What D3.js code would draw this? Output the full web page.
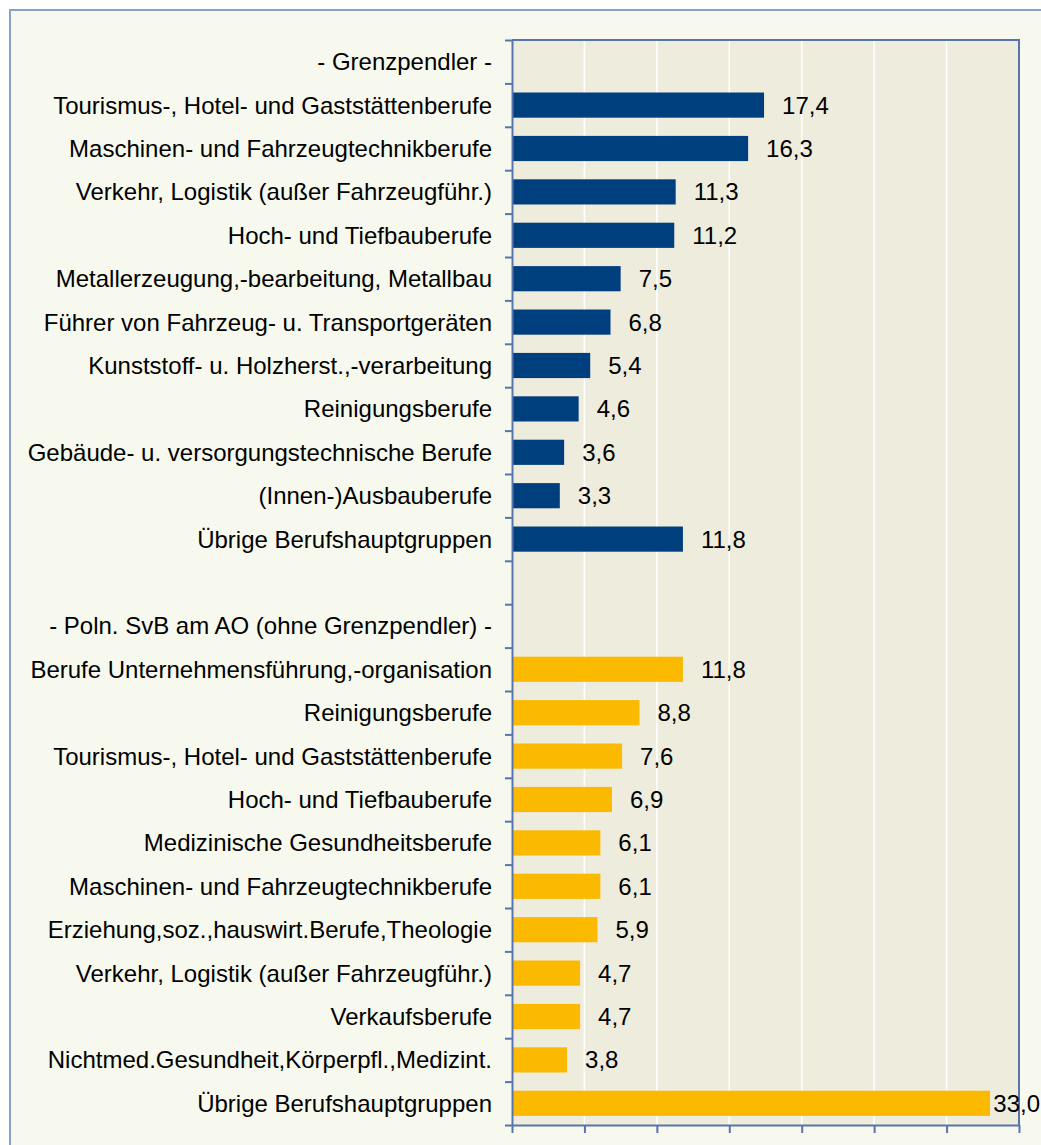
<!DOCTYPE html>
<html>
<head>
<meta charset="utf-8">
<script src="https://cdn.jsdelivr.net/npm/d3@7"></script>
<style>
  body { margin: 0; background: #fff; }
  svg { display: block; }
  text { font-family: "Liberation Sans", Arial, sans-serif; font-size: 24px; fill: #000; }
</style>
</head>
<body>
<div id="container"></div>
<script>
// Größe
let width = 1041;
let height = 1145;

// Daten
var header1 = "- Grenzpendler -";
var grenzLabels = [
  "Tourismus-, Hotel- und Gaststättenberufe",
  "Maschinen- und Fahrzeugtechnikberufe",
  "Verkehr, Logistik (außer Fahrzeugführ.)",
  "Hoch- und Tiefbauberufe",
  "Metallerzeugung,-bearbeitung, Metallbau",
  "Führer von Fahrzeug- u. Transportgeräten",
  "Kunststoff- u. Holzherst.,-verarbeitung",
  "Reinigungsberufe",
  "Gebäude- u. versorgungstechnische Berufe",
  "(Innen-)Ausbauberufe",
  "Übrige Berufshauptgruppen"
];
var grenzValues = [17.4, 16.3, 11.3, 11.2, 7.5, 6.8, 5.4, 4.6, 3.6, 3.3, 11.8];

var header2 = "- Poln. SvB am AO (ohne Grenzpendler) -";
var polnLabels = [
  "Berufe Unternehmensführung,-organisation",
  "Reinigungsberufe",
  "Tourismus-, Hotel- und Gaststättenberufe",
  "Hoch- und Tiefbauberufe",
  "Medizinische Gesundheitsberufe",
  "Maschinen- und Fahrzeugtechnikberufe",
  "Erziehung,soz.,hauswirt.Berufe,Theologie",
  "Verkehr, Logistik (außer Fahrzeugführ.)",
  "Verkaufsberufe",
  "Nichtmed.Gesundheit,Körperpfl.,Medizint.",
  "Übrige Berufshauptgruppen"
];
var polnValues = [11.8, 8.8, 7.6, 6.9, 6.1, 6.1, 5.9, 4.7, 4.7, 3.8, 33.0];

var xTicks = [0, 5, 10, 15, 20, 25, 30, 35];

// Zeilen aufbauen
var rows = [];
rows.push({ label: header1, value: null, group: "g" });
grenzLabels.forEach(function(l, i) { rows.push({ label: l, value: grenzValues[i], group: "g" }); });
rows.push({ label: "", value: null, group: "" });
rows.push({ label: header2, value: null, group: "p" });
polnLabels.forEach(function(l, i) { rows.push({ label: l, value: polnValues[i], group: "p" }); });
rows.forEach(function(d, i) { d.i = i; });

var color = { g: "#003F7E", p: "#FBB900" };

var plot = { left: 512, right: 1019, top: 40, bottom: 1125 };

var svg = d3.select("#container").append("svg")
  .attr("width", width)
  .attr("height", height);

// Rahmen
svg.append("rect")
  .attr("x", 10).attr("y", 10)
  .attr("width", width + 20).attr("height", height + 20)
  .attr("fill", "#F8F9EE")
  .attr("stroke", "#8A9FCC")
  .attr("stroke-width", 2);

var x = d3.scaleLinear().domain([0, 35]).range([plot.left, plot.right]);
var y = d3.scaleBand().domain(rows.map(function(d) { return d.i; }))
  .range([plot.top, plot.bottom])
  .paddingInner(0.42).paddingOuter(0.21);
var yLin = d3.scaleLinear().domain([0, rows.length]).range([plot.top, plot.bottom]);

// Plotfläche
svg.append("rect")
  .attr("x", plot.left).attr("y", plot.top)
  .attr("width", plot.right - plot.left).attr("height", plot.bottom - plot.top)
  .attr("fill", "#EEECDC");

// Gitternetz
svg.append("g").selectAll("line")
  .data(xTicks.slice(1, -1))
  .enter().append("line")
  .attr("x1", function(d) { return x(d); })
  .attr("x2", function(d) { return x(d); })
  .attr("y1", plot.top).attr("y2", plot.bottom)
  .attr("stroke", "#fff")
  .attr("stroke-width", 1.6);

// Balken
svg.append("g").selectAll("rect")
  .data(rows.filter(function(d) { return d.value != null; }))
  .enter().append("rect")
  .attr("x", x(0))
  .attr("y", function(d) { return y(d.i); })
  .attr("width", function(d) { return x(d.value) - x(0); })
  .attr("height", y.bandwidth())
  .attr("fill", function(d) { return color[d.group]; });

// Rand oben und rechts
var axisColor = "#5874AE";
svg.append("path")
  .attr("d", "M" + plot.left + "," + plot.top + "H" + plot.right + "V" + plot.bottom)
  .attr("fill", "none")
  .attr("stroke", axisColor)
  .attr("stroke-width", 2);

// Achsen
var yAxis = svg.append("g")
  .attr("transform", "translate(" + plot.left + ",0)")
  .call(d3.axisLeft(yLin).tickValues(d3.range(rows.length + 1)).tickFormat("").tickSize(7).tickSizeOuter(0));
var xAxis = svg.append("g")
  .attr("transform", "translate(0," + plot.bottom + ")")
  .call(d3.axisBottom(x).tickValues(xTicks).tickFormat("").tickSize(8).tickSizeOuter(0));
[yAxis, xAxis].forEach(function(a) {
  a.selectAll("path,line").attr("stroke", axisColor).attr("stroke-width", 2);
});

// Kategorietexte
svg.append("g").selectAll("text")
  .data(rows)
  .enter().append("text")
  .attr("x", plot.left - 20)
  .attr("y", function(d) { return yLin(d.i + 0.5); })
  .attr("dy", "0.35em")
  .attr("text-anchor", "end")
  .text(function(d) { return d.label; });

// Werte
var fmt = function(v) { return d3.format(".1f")(v).replace(".", ","); };
svg.append("g").selectAll("text")
  .data(rows.filter(function(d) { return d.value != null; }))
  .enter().append("text")
  .attr("y", function(d) { return yLin(d.i + 0.5); })
  .attr("dy", "0.35em")
  .text(function(d) { return fmt(d.value); })
  .attr("x", function(d) {
    var w = this.getComputedTextLength();
    return Math.min(x(d.value) + 18, width - 1 - w);
  });
</script>
</body>
</html>
